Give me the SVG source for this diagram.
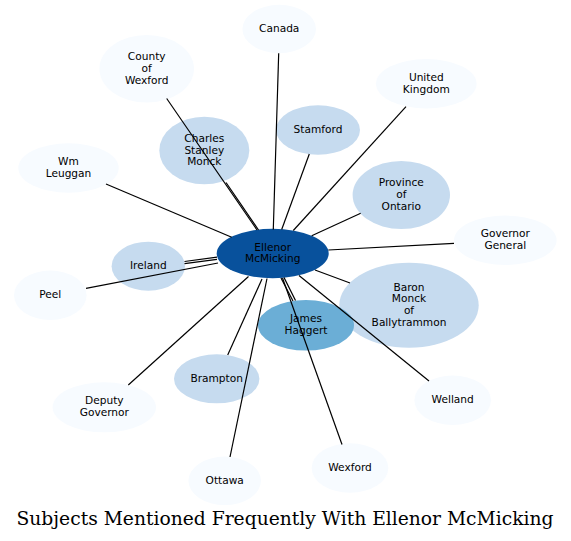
<svg xmlns="http://www.w3.org/2000/svg" width="571" height="541" viewBox="0 0 571 541">
<style>
.n text{font-family:"DejaVu Sans",sans-serif;font-size:10.6px;fill:#000;text-anchor:middle}
.l{fill:#f7fbff}.m{fill:#c6dbef}.h{fill:#6baed6}.c{fill:#08519c}
#edges line{stroke:#000;stroke-width:1.2}
.title{font-family:"DejaVu Serif",serif;font-size:18px;fill:#000}
</style>
<rect width="571" height="541" fill="#fff"/>
<g id="nodes" class="n">
<g id="canada"><ellipse class="l" cx="279.2" cy="29" rx="36.8" ry="24.2"/><text x="279.2" y="32">Canada</text></g>
<g id="county-of-wexford"><ellipse class="l" cx="146.7" cy="68.8" rx="47.3" ry="33.8"/><text x="146.7" y="60.1">County</text><text x="146.7" y="71.8">of</text><text x="146.7" y="83.5">Wexford</text></g>
<g id="united-kingdom"><ellipse class="l" cx="426.3" cy="83.7" rx="50.3" ry="24.7"/><text x="426.3" y="80.85">United</text><text x="426.3" y="92.55">Kingdom</text></g>
<g id="stamford"><ellipse class="m" cx="318" cy="130" rx="42" ry="24.7"/><text x="318" y="133">Stamford</text></g>
<g id="charles-stanley-monck"><ellipse class="m" cx="204.3" cy="150.5" rx="45" ry="33.8"/><text x="204.3" y="141.8">Charles</text><text x="204.3" y="153.5">Stanley</text><text x="204.3" y="165.2">Monck</text></g>
<g id="wm-leuggan"><ellipse class="l" cx="68.5" cy="168" rx="50.2" ry="24.7"/><text x="68.5" y="165.15">Wm</text><text x="68.5" y="176.85">Leuggan</text></g>
<g id="province-of-ontario"><ellipse class="m" cx="401.3" cy="195" rx="48.7" ry="34"/><text x="401.3" y="186.3">Province</text><text x="401.3" y="198">of</text><text x="401.3" y="209.7">Ontario</text></g>
<g id="governor-general"><ellipse class="l" cx="505.3" cy="240.3" rx="51.3" ry="24.7"/><text x="505.3" y="237.45">Governor</text><text x="505.3" y="249.15">General</text></g>
<g id="ellenor-mcmicking"><ellipse class="c" cx="272.7" cy="253.5" rx="56" ry="24.7"/><text x="272.7" y="250.65">Ellenor</text><text x="272.7" y="262.35">McMicking</text></g>
<g id="ireland"><ellipse class="m" cx="148.3" cy="266.2" rx="36.7" ry="24.5"/><text x="148.3" y="269.2">Ireland</text></g>
<g id="peel"><ellipse class="l" cx="50.3" cy="295.3" rx="36.3" ry="24.7"/><text x="50.3" y="298.3">Peel</text></g>
<g id="baron-monck-of-ballytrammon"><ellipse class="m" cx="409" cy="305.2" rx="69.7" ry="42.5"/><text x="409" y="290.65">Baron</text><text x="409" y="302.35">Monck</text><text x="409" y="314.05">of</text><text x="409" y="325.75">Ballytrammon</text></g>
<g id="james-haggert"><ellipse class="h" cx="306" cy="325.3" rx="48" ry="25.3"/><text x="306" y="322.45">James</text><text x="306" y="334.15">Haggert</text></g>
<g id="brampton"><ellipse class="m" cx="216.7" cy="378.8" rx="42.7" ry="24.5"/><text x="216.7" y="381.8">Brampton</text></g>
<g id="deputy-governor"><ellipse class="l" cx="104.3" cy="407.3" rx="51.7" ry="25"/><text x="104.3" y="404.45">Deputy</text><text x="104.3" y="416.15">Governor</text></g>
<g id="welland"><ellipse class="l" cx="452.7" cy="400.3" rx="38.3" ry="24.7"/><text x="452.7" y="403.3">Welland</text></g>
<g id="wexford"><ellipse class="l" cx="350" cy="468" rx="38.3" ry="24.7"/><text x="350" y="471">Wexford</text></g>
<g id="ottawa"><ellipse class="l" cx="224.7" cy="480.8" rx="36.3" ry="24.2"/><text x="224.7" y="483.8">Ottawa</text></g>
</g>
<g id="edges">
<line x1="273.3" y1="229.5" x2="278.7" y2="53.2"/>
<line x1="257" y1="230" x2="166.7" y2="98.5"/>
<line x1="258.5" y1="230" x2="226" y2="182.5"/>
<line x1="281.7" y1="229.5" x2="309.3" y2="154"/>
<line x1="293.3" y1="230.5" x2="406" y2="106.7"/>
<line x1="311.7" y1="235.7" x2="360.7" y2="213.3"/>
<line x1="231.7" y1="237.3" x2="106" y2="184"/>
<line x1="328.3" y1="250" x2="454" y2="243.3"/>
<line x1="217" y1="257.2" x2="184.5" y2="261.5"/>
<line x1="217" y1="259.4" x2="184.5" y2="263.6"/>
<line x1="218" y1="263" x2="86" y2="288.3"/>
<line x1="315" y1="270" x2="350" y2="283"/>
<line x1="281" y1="278" x2="293" y2="301"/>
<line x1="284" y1="277.5" x2="295.5" y2="300.5"/>
<line x1="299" y1="275.5" x2="429" y2="381"/>
<line x1="282.5" y1="278" x2="342" y2="444.5"/>
<line x1="267" y1="278.5" x2="230" y2="457"/>
<line x1="262" y1="279" x2="227.7" y2="355"/>
<line x1="248.5" y1="276.5" x2="128.3" y2="385"/>
</g>
<text class="title" x="16.5" y="525" textLength="537" lengthAdjust="spacingAndGlyphs">Subjects Mentioned Frequently With Ellenor McMicking</text>
</svg>
